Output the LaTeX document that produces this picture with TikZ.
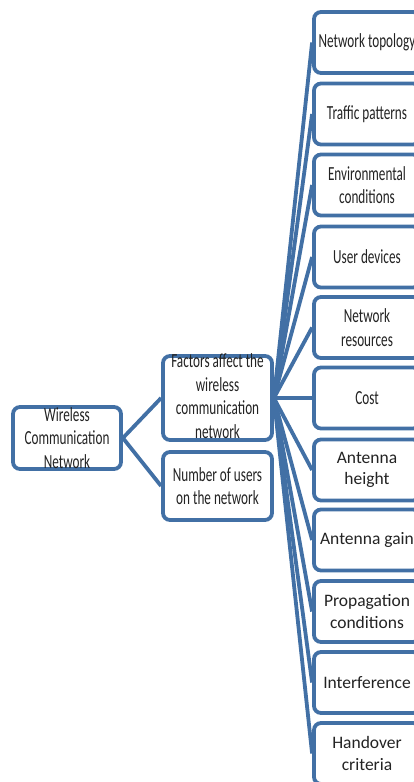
\documentclass[tikz,border=0pt]{standalone}
\usepackage{fontspec}
\setmainfont{Carlito}
\newfontfamily\narrowfont[FakeStretch=0.66]{Carlito}
\usepackage{xcolor}
\definecolor{smartblue}{RGB}{66,112,165}
\definecolor{inkgray}{RGB}{35,35,35}
\usepackage{tikz}
\usetikzlibrary{backgrounds}

\begin{document}
\begin{tikzpicture}[x=1pt,y=-1pt,
  box/.style={draw=smartblue,line width=3.8pt,rounded corners=7pt,fill=white,
    minimum width=106pt,minimum height=61pt,inner sep=0pt,align=center,
    text=inkgray,font=\fontsize{17.5}{21.5}\selectfont},
  narrow/.style={font=\narrowfont\fontsize{20}{23.5}\selectfont},
  caption/.style={align=center,inner sep=0pt,text=inkgray,narrow},
  link/.style={draw=smartblue,line width=3.8pt}]
\useasboundingbox (0,0) rectangle (414,782);
\clip (0,0) rectangle (414,782);

% left side
\node (wcn) at (67,438) [box,minimum width=108pt,minimum height=62pt]{};
\node at (wcn) [caption]{Wireless\\Communication\\Network};
\node (factors) at (217.5,398) [box,minimum width=109pt,minimum height=84pt]{};
\node at ([yshift=2pt]factors) [caption]{Factors affect the\\wireless\\communication\\network};
\node (users) at (217.5,486) [box,narrow,minimum width=109pt,minimum height=68pt]{Number of users\\on the network};

% factors
\node (topology) at (367,42.5) [box,narrow]{Network topology};
\node (traffic) at (367,114) [box,narrow]{Traffic patterns};
\node (environment) at (367,185) [box,narrow]{Environmental\\conditions};
\node (devices) at (367,257) [box,narrow]{User devices};
\node (resources) at (367,327.5) [box,narrow]{Network\\resources};
\node (cost) at (367,398) [box,narrow]{Cost};
\node (height) at (367,470) [box]{Antenna\\height};
\node (gain) at (367,540) [box]{Antenna gain};
\node (propagation) at (367,611.5) [box]{Propagation\\conditions};
\node (interference) at (367,682.5) [box]{Interference};
\node (handover) at (367,753.5) [box]{Handover\\criteria};

\begin{scope}[on background layer]
\draw[link] (wcn.east) -- (factors.west);
\draw[link] (wcn.east) -- (users.west);
\foreach \f in {topology,traffic,environment,devices,resources,cost,height,gain,propagation,interference,handover}
  \draw[link] (factors.east) -- (\f.west);
\end{scope}
\end{tikzpicture}
\end{document}
